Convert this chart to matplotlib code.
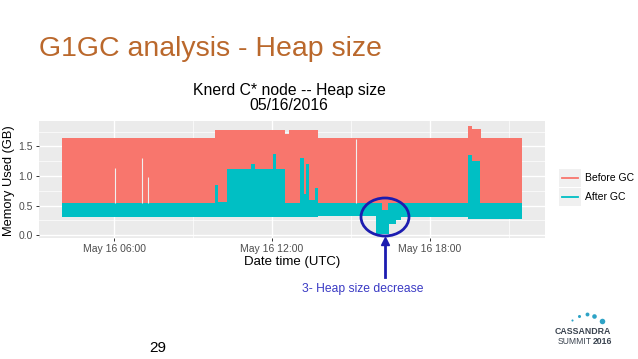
import matplotlib
matplotlib.use("Agg")
import matplotlib.pyplot as plt
from matplotlib.patches import Ellipse, Rectangle
from matplotlib.lines import Line2D

plt.rcParams['font.family'] = ['Liberation Sans', 'DejaVu Sans']

# ---- data (hours since 00:00 on May 16, memory in GB) ----
before_t = [4.03, 9.85, 12.5, 12.65, 13.75, 19.45, 19.6, 19.95, 21.5]
before_hi = [1.65, 1.77, 1.71, 1.78, 1.64, 1.84, 1.80, 1.64, 1.64]
before_lo = [0.38, 0.38, 0.38, 0.38, 0.38, 0.38, 0.38, 0.38, 0.38]

after_t = [4.03, 9.85, 9.95, 10.3, 11.2, 11.35, 12.05, 12.15, 12.5, 13.05,
           13.2, 13.3, 13.4, 13.65, 13.75, 15.95, 16.18, 16.41, 16.44, 16.7,
           16.9, 19.45, 19.6, 19.9, 21.5]
after_hi = [0.54, 0.85, 0.56, 1.12, 1.20, 1.12, 1.37, 1.12, 0.55, 1.30,
            0.70, 1.20, 0.60, 0.80, 0.54, 0.54, 0.42, 0.54, 0.54, 0.54,
            0.54, 1.35, 1.25, 0.54, 0.54]
after_lo = [0.31, 0.31, 0.31, 0.30, 0.30, 0.30, 0.30, 0.30, 0.30, 0.30,
            0.30, 0.30, 0.30, 0.30, 0.32, 0.02, 0.02, 0.02, 0.18, 0.26,
            0.30, 0.28, 0.28, 0.28, 0.28]

# thin gaps in the "Before GC" band
gap_t = [6.04, 7.06, 7.3, 15.2]
gap_top = [1.13, 1.30, 0.98, 1.62]

x_ticks = [6, 12, 18]
x_ticklabels = ['May 16 06:00', 'May 16 12:00', 'May 16 18:00']
y_ticks = [0.0, 0.5, 1.0, 1.5]
series_names = ['Before GC', 'After GC']

red = '#F8766D'
teal = '#00BFC4'
blue = '#1c1cb0'
W, H = 638, 359

fig = plt.figure(figsize=(6.38, 3.59), dpi=100)
fig.patch.set_facecolor('white')

# slide title
fig.text(39 / W, 1 - 56 / H, 'G1GC analysis - Heap size', fontsize=20.5,
         color='#BA682C', ha='left', va='baseline')

# ---- ggplot-like panel ----
ax = fig.add_axes([39 / W, 1 - 238 / H, (545 - 39) / W, (238 - 121) / H])
ax.set_facecolor('#EBEBEB')
for s in ax.spines.values():
    s.set_visible(False)
ax.set_xlim(3.15, 22.37)
ax.set_ylim(-0.05, 1.93)
ax.set_xticks(x_ticks)
ax.set_xticklabels(x_ticklabels)
ax.set_yticks(y_ticks)
ax.set_yticklabels(['%.1f' % v for v in y_ticks])
ax.set_xticks([9, 15, 21], minor=True)
ax.set_yticks([0.25, 0.75, 1.25, 1.75], minor=True)
ax.grid(which='major', color='white', lw=1.0)
ax.grid(which='minor', color='white', lw=0.5)
ax.set_axisbelow(True)
ax.tick_params(which='major', length=2.5, width=0.7, color='#333333',
               labelsize=7.5, labelcolor='#4D4D4D', pad=2)
ax.tick_params(which='minor', length=0)

ax.fill_between(before_t, before_lo, before_hi, step='post', color=red, lw=0)
ax.vlines(gap_t, 0.55, gap_top, color='#F0F0F0', lw=0.8)
ax.fill_between(after_t, after_lo, after_hi, step='post', color=teal, lw=0)

ax.set_xlabel('Date time (UTC)', fontsize=9.5)
ax.set_ylabel('Memory Used (GB)', fontsize=9.3)
ax.xaxis.set_label_coords(0.5, -(256 - 238) / (238 - 121))
ax.yaxis.set_label_coords(-(39 - 15) / (545 - 39), 0.49)

# chart title (two lines)
fig.text(289 / W, 1 - 91 / H, 'Knerd C* node -- Heap size', fontsize=11.3,
         ha='center', va='center')
fig.text(289 / W, 1 - 106 / H, '05/16/2016', fontsize=11.3,
         ha='center', va='center')

# legend
colors = [red, teal]
for i, (name, c) in enumerate(zip(series_names, colors)):
    yc = 1 - (178 + 19 * i) / H
    fig.add_artist(Rectangle((559 / W, yc - 9 / H), 22 / W, 18 / H,
                             transform=fig.transFigure, color='#F0F0F0', lw=0))
    fig.add_artist(Line2D([562 / W, 578 / W], [yc, yc], color=c, lw=1.3,
                          transform=fig.transFigure))
    fig.text(585 / W, yc, name, fontsize=7.5, ha='left', va='center')

# annotation: circle, arrow and text
fig.add_artist(Ellipse((385 / W, 1 - 217 / H), 48 / W, 38 / H,
                       transform=fig.transFigure, fill=False,
                       ec=blue, lw=2))
fig.add_artist(Line2D([385 / W, 385 / W], [1 - 277 / H, 1 - 240 / H],
                      color=blue, lw=2, transform=fig.transFigure))
fig.add_artist(Line2D([385 / W], [1 - 241 / H], marker='^', ms=6,
                      color=blue, transform=fig.transFigure))
fig.text(363 / W, 1 - 289 / H, '3- Heap size decrease', fontsize=8.7,
         color='#3a3ac4', ha='center', va='center')

# page number
fig.text(158 / W, 1 - 348 / H, '29', fontsize=11, ha='center', va='center')

# logo
dots = [(572, 320, 1.5), (579, 316, 2.2), (587, 314, 2.8), (594, 316, 3.3),
        (602, 321, 4.0)]
for x, y, ms in dots:
    fig.add_artist(Line2D([x / W], [1 - y / H], marker='o', ms=ms,
                          color='#2ea3c6', mec='none',
                          transform=fig.transFigure))
fig.text(583 / W, 1 - 332 / H, 'CASSANDRA', fontsize=6.3, fontweight='bold',
         color='#3b4450', ha='center', va='center')
fig.text(592 / W, 1 - 342 / H, 'SUMMIT', fontsize=6.2, color='#3b4450',
         ha='right', va='center')
fig.text(593 / W, 1 - 342 / H, '2016', fontsize=6.2, fontweight='bold',
         color='#3b4450', ha='left', va='center')

fig.savefig('out.png', dpi=100, facecolor='white')
